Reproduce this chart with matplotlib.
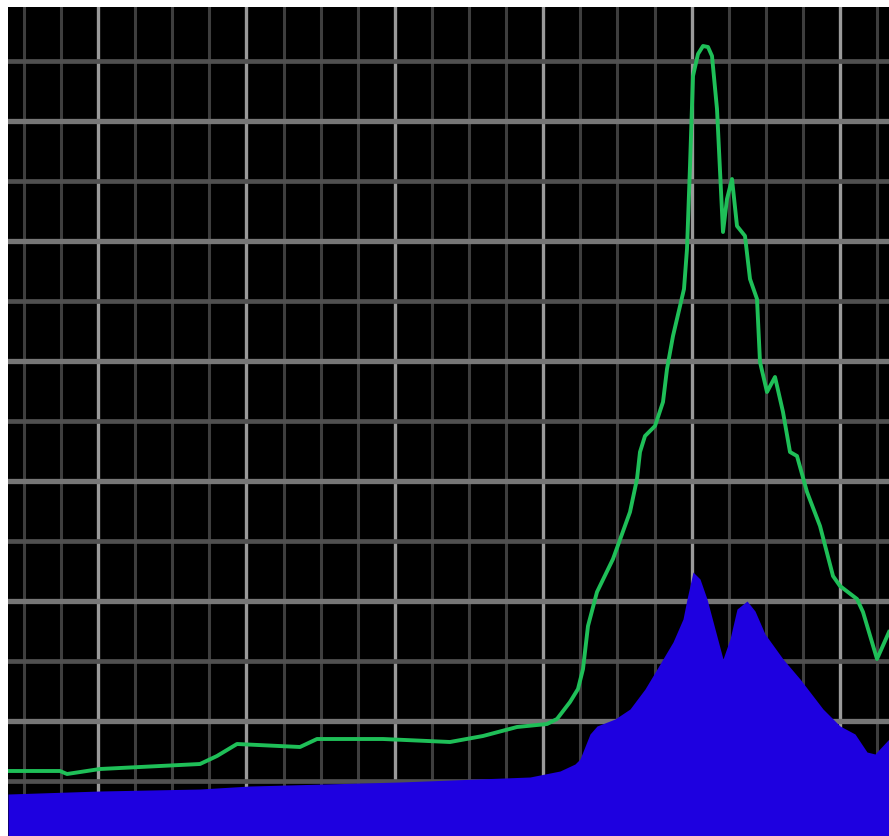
import matplotlib.pyplot as plt
import matplotlib as mpl

# readings: x = distance from left edge, y = height above bottom
green_x = [0, 52, 59, 92, 192, 209, 229, 292, 309, 375, 442, 475, 509, 539,
           549, 562, 570, 575, 580, 589, 605, 622, 629, 632, 637, 647, 655,
           659, 665, 676, 679, 682, 685, 690, 695, 700, 704, 709, 715, 719,
           724, 729, 737, 742, 749, 752, 759, 767, 775, 782, 789, 799, 812,
           825, 832, 849, 855, 869, 881]
green_y = [65, 65, 62, 67, 72, 80, 92, 89, 97, 97, 94, 100, 109, 112,
           117, 134, 147, 167, 210, 244, 277, 324, 357, 384, 400, 410, 434,
           467, 500, 547, 587, 670, 760, 782, 790, 789, 780, 727, 604, 637,
           657, 610, 600, 557, 537, 474, 444, 459, 424, 384, 380, 344, 310,
           260, 250, 237, 224, 177, 204]

blue_x = [0, 92, 192, 242, 392, 522, 552, 567, 572, 582, 589, 607, 622,
          637, 649, 665, 675, 679, 685, 692, 699, 707, 715, 722, 729, 739,
          747, 757, 775, 792, 815, 832, 847, 859, 867, 881]
blue_y = [42, 45, 47, 50, 54, 59, 65, 72, 77, 102, 110, 117, 127,
          147, 167, 194, 217, 237, 264, 257, 237, 207, 177, 197, 227, 235,
          225, 202, 177, 157, 127, 110, 102, 84, 82, 97]

W, H = 889, 837
fig = plt.figure(figsize=[W / 100, H / 100], dpi=100)
fig.patch.set_facecolor('white')
ax = fig.add_axes([8 / W, 0, 881 / W, 829 / H])
ax.set_facecolor('black')

ax.set_xlim(0, 881)
ax.set_ylim(0, 829)

ax.xaxis.set_major_locator(mpl.ticker.MultipleLocator(148.4, offset=90))
ax.xaxis.set_minor_locator(mpl.ticker.MultipleLocator(37.1, offset=15.8))
ax.yaxis.set_major_locator(mpl.ticker.MultipleLocator(120, offset=115))
ax.yaxis.set_minor_locator(mpl.ticker.MultipleLocator(60, offset=55))

ax.grid(which='major', axis='x', color='#9a9a9a', linewidth=2.4)
ax.grid(which='minor', axis='x', color='#3e3e3e', linewidth=2.2)
ax.grid(which='major', axis='y', color='#767676', linewidth=3.8)
ax.grid(which='minor', axis='y', color='#505050', linewidth=3.4)
ax.set_axisbelow(True)

ax.fill_between(blue_x, 0, blue_y, color='#1e00e0', linewidth=0, zorder=2)
ax.plot(green_x, green_y, color='#1fbf58', linewidth=2.8, zorder=3)

ax.tick_params(which='both', length=0, labelbottom=False, labelleft=False)
for s in ax.spines.values():
    s.set_visible(False)

fig.savefig('out.png', dpi=100, facecolor='white')
